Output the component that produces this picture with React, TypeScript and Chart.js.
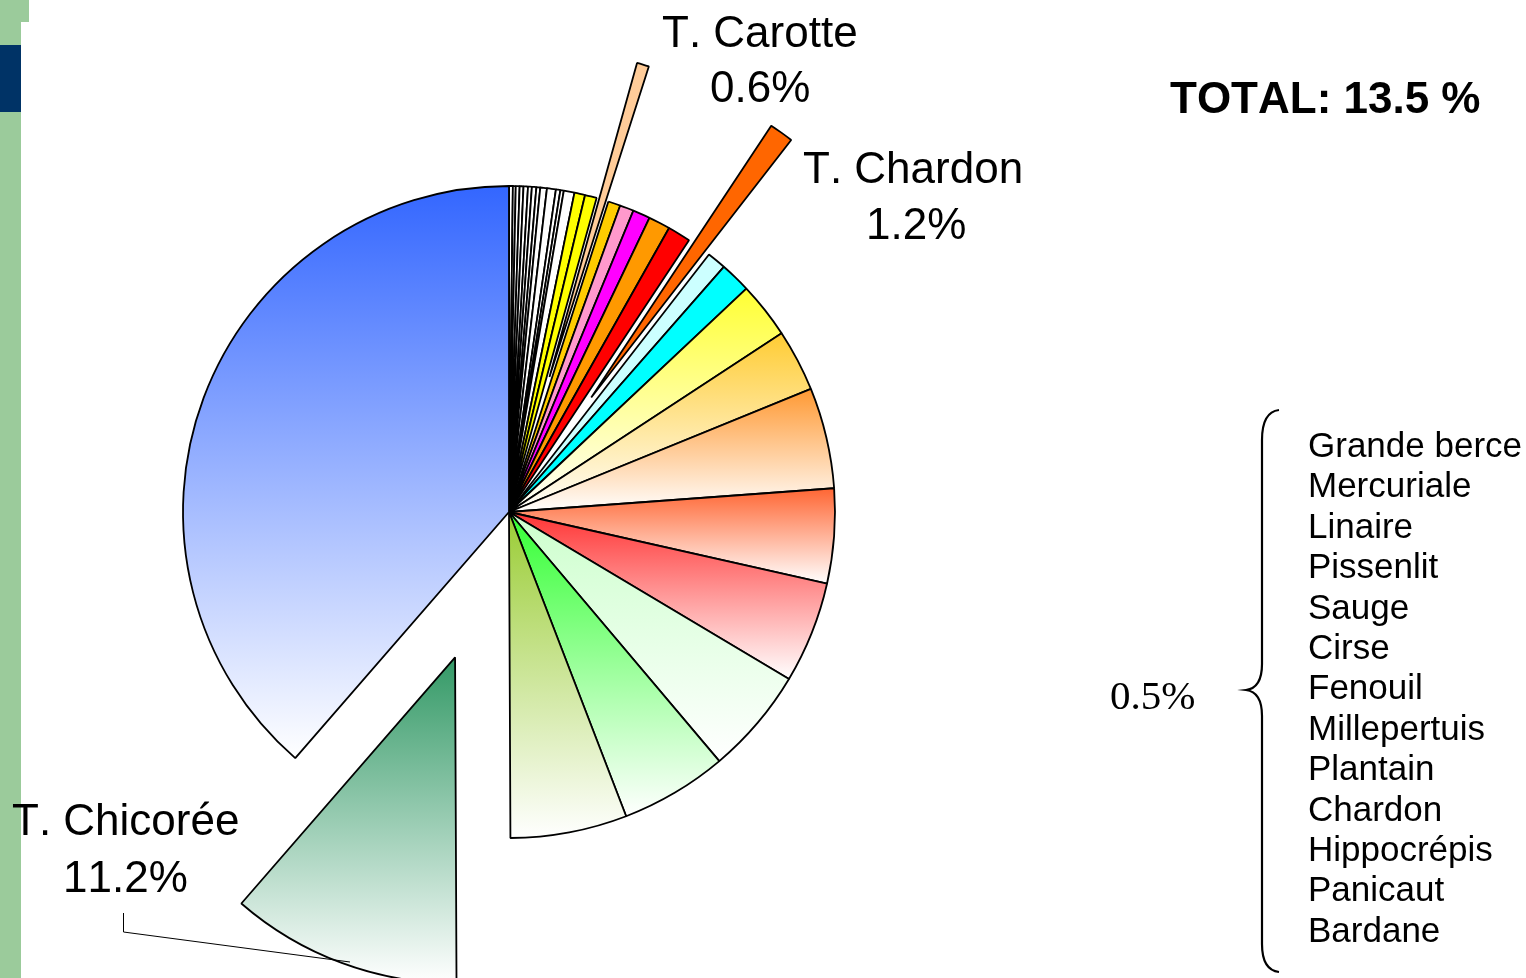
import React, { useEffect, useRef } from 'react';
import { Chart, registerables } from 'chart.js';

Chart.register(...registerables);

const W = 1526;
const H = 978;
const RADIUS = 326;

// ---- data (percent of the whole pie, clockwise from 12 o'clock) ----
const smallSpecies = [
  'Grande berce', 'Mercuriale', 'Linaire', 'Pissenlit', 'Sauge', 'Cirse', 'Fenouil',
  'Millepertuis', 'Plantain', 'Chardon', 'Hippocrépis', 'Panicaut', 'Bardane',
];
const smallValues = [0.19, 0.14, 0.19, 0.19, 0.22, 0.19, 0.22, 0.19, 0.33, 0.44, 0.22, 0.17, 0.53];

const otherLabels = [
  'Espèce 14', 'Espèce 15', 'T. Carotte', 'Espèce 17', 'Espèce 18', 'Espèce 19', 'Espèce 20',
  'Espèce 21', 'T. Chardon', 'Espèce 23', 'Espèce 24', 'Espèce 25', 'Espèce 26', 'Espèce 27',
  'Espèce 28', 'Espèce 29', 'Espèce 30', 'Espèce 31', 'Espèce 32', 'T. Chicorée', 'Autres',
];
const otherValues = [
  0.53, 0.58, 0.6, 0.61, 0.69, 0.86, 1.08,
  1.14, 1.2, 0.94, 1.53, 2.78, 3.08, 5.0,
  4.69, 5.03, 5.28, 5.31, 5.78, 11.45, 38.62,
];

const sliceLabels = [...smallSpecies, ...otherLabels];
const sliceValues = [...smallValues, ...otherValues];

// text annotations
const calloutTitles = ['T. Carotte', 'T. Chardon', 'T. Chicorée'];
const calloutPercents = ['0.6%', '1.2%', '11.2%'];
const totalText = 'TOTAL: 13.5 %';
const bracketValue = '0.5%';

// ---- styles (kept apart from the data) ----
const WHITE13 = Array(13).fill('#FFFFFF');
const sliceColors = [
  ...WHITE13,
  '#FFFF00', '#FFFF00', '#FFCC99', '#FFCC00', '#FF99CC', '#FF00FF', '#FF9900',
  '#FF0000', '#FF6600', '#CCFFFF', '#00FFFF', '#FFFF33', '#FFCC33', '#FF9933',
  '#FF6633', '#FF3333', '#CCFFCC', '#33FF33', '#99CC33', '#339966', '#3366FF',
];
const gradientFrom = 24; // slices from this index on fade to white downward
const explodeDist: Record<number, number> = { 15: 141, 21: 141, 32: 155 };

const PAD = { left: 0, right: 508, top: 46, bottom: 0 };

function sliceGeom(area: any, i: number) {
  const total = sliceValues.reduce((a, b) => a + b, 0);
  let cum = 0;
  for (let k = 0; k < i; k++) cum += sliceValues[k];
  const a0 = -Math.PI / 2 + (2 * Math.PI * cum) / total;
  const a1 = a0 + (2 * Math.PI * sliceValues[i]) / total;
  const mid = (a0 + a1) / 2;
  const d = explodeDist[i] || 0;
  const cx = (area.left + area.right) / 2 + Math.cos(mid) * d;
  const cy = (area.top + area.bottom) / 2 + Math.sin(mid) * d;
  const ys = [cy, cy + RADIUS * Math.sin(a0), cy + RADIUS * Math.sin(a1)];
  const within = (ang: number) => {
    for (let t = ang - 4 * Math.PI; t <= ang + 4 * Math.PI; t += 2 * Math.PI) {
      if (t >= a0 && t <= a1) return true;
    }
    return false;
  };
  if (within(-Math.PI / 2)) ys.push(cy - RADIUS);
  if (within(Math.PI / 2)) ys.push(cy + RADIUS);
  return { minY: Math.min(...ys), maxY: Math.max(...ys) };
}

function bg(c: any) {
  if (c.type !== 'data') return '#FFFFFF';
  const i = c.dataIndex;
  const col = sliceColors[i];
  if (i < gradientFrom) return col;
  const chart = c.chart;
  const area = chart.chartArea;
  if (!area) return col;
  const g = sliceGeom(area, i);
  const grad = chart.ctx.createLinearGradient(0, g.minY, 0, g.maxY);
  grad.addColorStop(0, col);
  grad.addColorStop(1, '#FFFFFF');
  return grad;
}

const explodePlugin = {
  id: 'explodeShift',
  afterDatasetUpdate(chart: any, args: any) {
    const meta = chart.getDatasetMeta(args.index);
    meta.data.forEach((arc: any, i: number) => {
      const d = explodeDist[i] || 0;
      if (!d) return;
      const mid = (arc.startAngle + arc.endAngle) / 2;
      arc.x += Math.cos(mid) * d;
      arc.y += Math.sin(mid) * d;
    });
  },
};

const decorPlugin = {
  id: 'decor',
  afterDraw(chart: any) {
    const ctx = chart.ctx;
    ctx.save();
    // leader line for T. Chicorée
    ctx.strokeStyle = '#000';
    ctx.lineWidth = 1;
    ctx.beginPath();
    ctx.moveTo(123.5, 913);
    ctx.lineTo(123.5, 932);
    ctx.lineTo(350, 962);
    ctx.stroke();
    // curly brace
    ctx.lineWidth = 2.2;
    ctx.beginPath();
    ctx.moveTo(1279, 410);
    ctx.quadraticCurveTo(1262, 412, 1262, 440);
    ctx.lineTo(1262, 664);
    ctx.quadraticCurveTo(1262, 688, 1246, 690);
    ctx.quadraticCurveTo(1262, 692, 1262, 716);
    ctx.lineTo(1262, 944);
    ctx.quadraticCurveTo(1262, 970, 1279, 972);
    ctx.stroke();
    ctx.restore();
  },
};

const SANS = '"Liberation Sans", Arial, Helvetica, sans-serif';

function Txt(props: { x: number; y: number; size: number; bold?: boolean; serif?: boolean; children: any }) {
  return (
    <div
      style={{
        position: 'absolute',
        left: props.x,
        top: props.y,
        fontFamily: props.serif ? '"Liberation Serif", "Times New Roman", serif' : SANS,
        fontSize: props.size,
        lineHeight: props.size + 'px',
        fontWeight: props.bold ? 'bold' : 'normal',
        fontKerning: 'none',
        color: '#000',
        whiteSpace: 'nowrap',
      }}
    >
      {props.children}
    </div>
  );
}

export default function App() {
  const ref = useRef<HTMLCanvasElement>(null);

  useEffect(() => {
    const canvas = ref.current;
    if (!canvas) return;
    const chart = new Chart(canvas, {
      type: 'pie',
      data: {
        labels: sliceLabels,
        datasets: [
          {
            data: sliceValues,
            backgroundColor: bg as any,
            borderColor: '#000000',
            borderWidth: 1.8,
            radius: RADIUS,
            clip: false,
          } as any,
        ],
      },
      options: {
        responsive: false,
        animation: false,
        events: [],
        layout: { padding: PAD },
        plugins: {
          legend: { display: false },
          tooltip: { enabled: false },
          title: { display: false },
        },
      } as any,
      plugins: [explodePlugin, decorPlugin],
    });
    return () => chart.destroy();
  }, []);

  return (
    <div style={{ position: 'absolute', left: 0, top: 0, width: W, height: H, overflow: 'hidden', background: '#fff' }}>
      <div style={{ position: 'absolute', left: 0, top: 0, width: 29, height: 22, background: '#9BCB9B' }} />
      <div style={{ position: 'absolute', left: 0, top: 0, width: 21, height: H, background: '#9BCB9B' }} />
      <div style={{ position: 'absolute', left: 0, top: 45, width: 21, height: 67, background: '#003366' }} />
      <canvas ref={ref} width={W} height={H} style={{ position: 'absolute', left: 0, top: 0, width: W, height: H }} />
      <Txt x={662} y={10} size={44}>{calloutTitles[0]}</Txt>
      <Txt x={710} y={65} size={44}>{calloutPercents[0]}</Txt>
      <Txt x={803} y={146} size={44}>{calloutTitles[1]}</Txt>
      <Txt x={866} y={202} size={44}>{calloutPercents[1]}</Txt>
      <Txt x={12} y={798} size={44}>{calloutTitles[2]}</Txt>
      <Txt x={63} y={855} size={44}>{calloutPercents[2]}</Txt>
      <Txt x={1170} y={76} size={44} bold>{totalText}</Txt>
      <Txt x={1110} y={675} size={41} serif>{bracketValue}</Txt>
      <div
        style={{
          position: 'absolute',
          left: 1308,
          top: 425,
          fontFamily: SANS,
          fontSize: 35,
          lineHeight: '40.4px',
          color: '#000',
          whiteSpace: 'nowrap',
        }}
      >
        {smallSpecies.map((s) => (
          <div key={s}>{s}</div>
        ))}
      </div>
    </div>
  );
}
